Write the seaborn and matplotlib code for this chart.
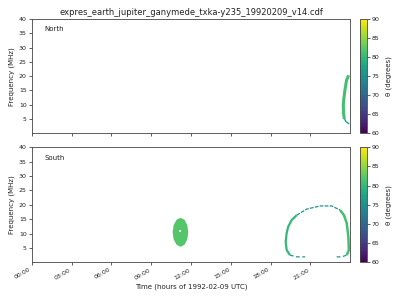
import numpy as np
import pandas as pd
import matplotlib
matplotlib.use("Agg")
import matplotlib.pyplot as plt
import seaborn as sns
from matplotlib.colors import Normalize
from matplotlib.cm import ScalarMappable

sns.set_style("ticks")
plt.rcParams['font.family'] = ['DejaVu Sans']

# ---- data (time in hours of 1992-02-09, frequency in MHz, theta in degrees) ----
north_upper_t = [23.88, 23.72, 23.60, 23.52, 23.48, 23.50, 23.56]
north_upper_f = [20.3, 18.5, 15.0, 12.0, 10.0, 7.0, 5.0]
north_upper_theta = 81
north_lower_t = [23.56, 23.70, 23.92]
north_lower_f = [5.0, 4.0, 3.3]
north_lower_theta = 77

south_left_t = [19.97, 19.59, 19.33, 19.21, 19.14, 19.21, 19.46]
south_left_f = [16.4, 14.7, 12.4, 10.1, 7.2, 4.3, 2.5]
south_left_theta = 80
south_top_t = [19.97, 20.72, 21.72, 22.60, 23.23]
south_top_f = [16.4, 18.5, 19.6, 19.6, 18.2]
south_top_theta = 75
south_right_t = [23.23, 23.53, 23.74, 23.86, 23.90, 23.74]
south_right_f = [18.2, 16.4, 13.6, 8.9, 4.3, 2.5]
south_right_theta = 81
south_bot1_t = [19.46, 19.97, 20.60]
south_bot1_f = [2.5, 1.9, 1.9]
south_bot2_t = [22.98, 23.36, 23.74]
south_bot2_f = [1.9, 1.9, 2.5]
south_bot_theta = 76

blob_t = [11.80, 11.72, 11.51, 11.21, 10.92, 10.70, 10.62, 10.70, 10.92, 11.21, 11.51, 11.72]
blob_f = [10.45, 12.98, 14.82, 15.5, 14.82, 12.98, 10.45, 7.92, 6.08, 5.4, 6.08, 7.92]
blob_theta = 82
blob_gap_t = [11.17]
blob_gap_f = [10.9]

tick_hours = [0, 3, 6, 9, 12, 15, 18, 21]
tick_labels = ["00:00", "03:00", "06:00", "09:00", "12:00", "15:00", "18:00", "21:00"]
freq_ticks = [5, 10, 15, 20, 25, 30, 35, 40]
cbar_ticks = [60, 65, 70, 75, 80, 85, 90]

title = "expres_earth_jupiter_ganymede_txka-y235_19920209_v14.cdf"

cmap = plt.get_cmap("viridis")
norm = Normalize(vmin=60, vmax=90)

fig = plt.figure(figsize=(4, 3), dpi=100)
W, H = 400, 300
def box(x0, y0, x1, y1):
    return [x0 / W, 1 - y1 / H, (x1 - x0) / W, (y1 - y0) / H]

ax1 = fig.add_axes(box(31.7, 19.0, 350.2, 133.3))
ax2 = fig.add_axes(box(31.7, 147.3, 350.2, 262.3))
cax1 = fig.add_axes(box(360.3, 19.0, 367.0, 133.3))
cax2 = fig.add_axes(box(360.3, 147.3, 367.0, 262.3))

def seg(ax, t, f, theta, lw, ls="-"):
    df = pd.DataFrame({"t": t, "f": f})
    sns.lineplot(data=df, x="t", y="f", sort=False, estimator=None, ax=ax,
                 color=cmap(norm(theta)), lw=lw, ls=ls, solid_capstyle="butt")

seg(ax1, north_upper_t, north_upper_f, north_upper_theta, 2.2)
seg(ax1, north_lower_t, north_lower_f, north_lower_theta, 1.0)

seg(ax2, south_left_t, south_left_f, south_left_theta, 1.6)
seg(ax2, south_top_t, south_top_f, south_top_theta, 0.9, ls=(0, (3, 1)))
seg(ax2, south_right_t, south_right_f, south_right_theta, 1.8)
seg(ax2, south_bot1_t, south_bot1_f, south_bot_theta, 0.9, ls=(0, (3, 2)))
seg(ax2, south_bot2_t, south_bot2_f, south_bot_theta, 0.9, ls=(0, (3, 2)))
ax2.fill(blob_t, blob_f, color=cmap(norm(blob_theta)), lw=0)
sns.scatterplot(x=blob_gap_t, y=blob_gap_f, ax=ax2, color="white", marker="s", s=3, linewidth=0)

spine_col = "#444444"
for ax, lab in ((ax1, "North"), (ax2, "South")):
    ax.set_xlim(0, 24)
    ax.set_ylim(0, 40)
    ax.set_xticks(tick_hours)
    ax.set_yticks(freq_ticks)
    ax.set_ylabel("Frequency (MHz)", fontsize=5, color="#222222", labelpad=3)
    ax.set_xlabel("")
    ax.text(0.04, 0.91, lab, transform=ax.transAxes, fontsize=5, va="center", ha="left", color="#222222")
    ax.tick_params(labelsize=4.5, length=2, width=0.6, color=spine_col, labelcolor="#222222", pad=1.5)
    for s in ax.spines.values():
        s.set_color(spine_col)
        s.set_linewidth(0.6)
        s.set_visible(True)

ax1.set_xticklabels([])
ax2.set_xticklabels(tick_labels, rotation=30, ha="right")
ax2.set_xlabel("Time (hours of 1992-02-09 UTC)", fontsize=5, color="#222222", labelpad=2)
ax1.set_title(title, fontsize=6, color="#222222", pad=3)

for cax in (cax1, cax2):
    cb = fig.colorbar(ScalarMappable(norm=norm, cmap=cmap), cax=cax)
    cb.set_ticks(cbar_ticks)
    cb.set_label("θ (degrees)", fontsize=5, color="#222222", labelpad=4)
    cax.tick_params(labelsize=4.5, length=2, width=0.6, color=spine_col, labelcolor="#222222", pad=1.5)
    cb.outline.set_edgecolor(spine_col)
    cb.outline.set_linewidth(0.6)

fig.savefig("out.png", dpi=100)
